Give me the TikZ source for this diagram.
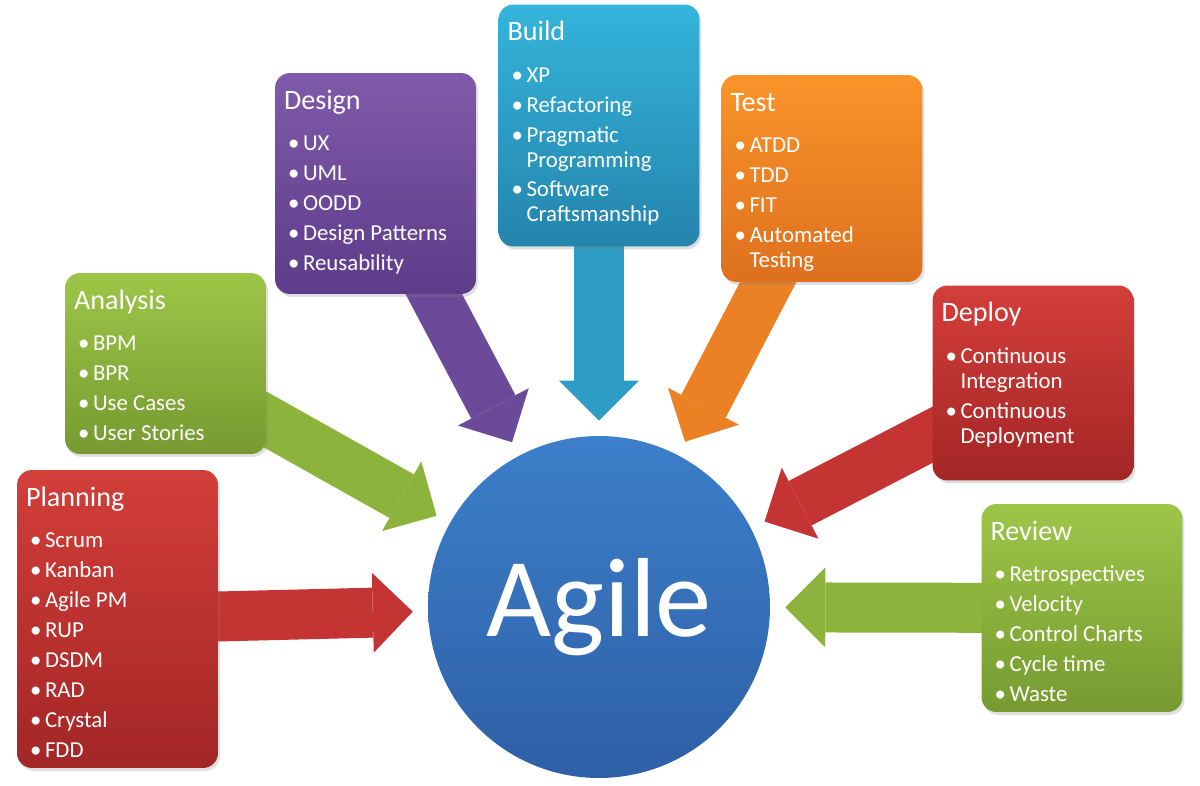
\documentclass[tikz,border=0pt]{standalone}
\usepackage{fontspec}
\setmainfont{Carlito}
\usetikzlibrary{arrows.meta}
\usetikzlibrary{backgrounds}
\usetikzlibrary{shadows}

\definecolor{redT}{RGB}{211,62,58}
\definecolor{redB}{RGB}{163,38,38}
\definecolor{redA}{RGB}{196,52,50}
\definecolor{grnT}{RGB}{157,198,72}
\definecolor{grnB}{RGB}{118,154,48}
\definecolor{grnA}{RGB}{140,180,60}
\definecolor{purT}{RGB}{128,90,170}
\definecolor{purB}{RGB}{93,60,138}
\definecolor{purA}{RGB}{108,74,154}
\definecolor{bluT}{RGB}{52,180,220}
\definecolor{bluB}{RGB}{36,132,172}
\definecolor{bluA}{RGB}{44,156,196}
\definecolor{orgT}{RGB}{250,148,42}
\definecolor{orgB}{RGB}{222,112,30}
\definecolor{orgA}{RGB}{236,128,36}
\definecolor{agT}{RGB}{60,127,202}
\definecolor{agB}{RGB}{46,96,166}

\newcommand{\itm}{\hspace*{0.08cm}\makebox[0.30cm][l]{\textbullet}}
\newcommand{\cnt}{\hspace*{0.38cm}}
\newcommand{\ttl}[1]{{\fontsize{16}{19}\selectfont\rule{0pt}{12pt}#1}\\[9.6pt]}

\begin{document}
\begin{tikzpicture}[x=0.02cm,y=-0.02cm,
    box/.style={rectangle,rounded corners=0.3cm,minimum width=4.02cm,inner sep=0pt,
      drop shadow={opacity=0.25,shadow xshift=0.04cm,shadow yshift=-0.06cm}},
    txt/.style={anchor=north west,inner sep=0pt,align=left,text=white,
      font=\fontsize{13}{14.2}\selectfont},
    arw/.style={line width=1cm,shorten >=0.3cm,shorten <=-1cm,
      -{Triangle[width=1.6cm,length=0.8cm,line width=0pt]}}]
    \useasboundingbox (0,0) rectangle (1200,785);

    \node[circle,minimum size=6.84cm,top color=agT,bottom color=agB,text=white,
      font=\fontsize{64}{70}\selectfont] (ag) at (599,607) {Agile};

    \node[box,minimum height=5.96cm,top color=redT,bottom color=redB] (plan) at (117.5,619) {};
    \node[txt] (planT) at ([shift={(9,15)}]plan.north west)
      {\ttl{Planning}\itm Scrum\\[2.8pt]\itm Kanban\\[2.8pt]\itm Agile PM\\[2.8pt]\itm RUP\\[2.8pt]
       \itm DSDM\\[2.8pt]\itm RAD\\[2.8pt]\itm Crystal\\[2.8pt]\itm FDD};

    \node[box,minimum height=3.62cm,top color=grnT,bottom color=grnB] (anal) at (165.5,363.5) {};
    \node[txt] (analT) at ([shift={(9,15)}]anal.north west)
      {\ttl{Analysis}\itm BPM\\[2.8pt]\itm BPR\\[2.8pt]\itm Use Cases\\[2.8pt]\itm User Stories};

    \node[box,minimum height=4.42cm,top color=purT,bottom color=purB] (desi) at (375.5,183.5) {};
    \node[txt] (desiT) at ([shift={(9,15)}]desi.north west)
      {\ttl{Design}\itm UX\\[2.8pt]\itm UML\\[2.8pt]\itm OODD\\[2.8pt]\itm Design Patterns\\[2.8pt]\itm Reusability};

    \node[box,minimum height=4.84cm,top color=bluT,bottom color=bluB] (buil) at (599,125.5) {};
    \node[txt] (builT) at ([shift={(9,15)}]buil.north west)
      {\ttl{Build}\itm XP\\[2.8pt]\itm Refactoring\\[2.8pt]\itm Pragmatic\\\cnt Programming\\[2.8pt]
       \itm Software\\\cnt Craftsmanship};

    \node[box,minimum height=4.14cm,top color=orgT,bottom color=orgB] (test) at (822,178.5) {};
    \node[txt] (testT) at ([shift={(9,15)}]test.north west)
      {\ttl{Test}\itm ATDD\\[2.8pt]\itm TDD\\[2.8pt]\itm FIT\\[2.8pt]\itm Automated\\\cnt Testing};

    \node[box,minimum height=3.9cm,top color=redT,bottom color=redB] (depl) at (1033,383) {};
    \node[txt] (deplT) at ([shift={(9,15)}]depl.north west)
      {\ttl{Deploy}\itm Continuous\\\cnt Integration\\[2.8pt]\itm Continuous\\\cnt Deployment};

    \node[box,minimum height=4.16cm,top color=grnT,bottom color=grnB] (revi) at (1082,608) {};
    \node[txt] (reviT) at ([shift={(9,15)}]revi.north west)
      {\ttl{Review}\itm Retrospectives\\[2.8pt]\itm Velocity\\[2.8pt]\itm Control Charts\\[2.8pt]
       \itm Cycle time\\[2.8pt]\itm Waste};

    \begin{scope}[on background layer]
    \foreach \b/\c in {plan/redA,anal/grnA,desi/purA,buil/bluA,test/orgA,depl/redA,revi/grnA}
      \draw[arw,\c] (\b) -- (ag);
    \end{scope}
\end{tikzpicture}
\end{document}
